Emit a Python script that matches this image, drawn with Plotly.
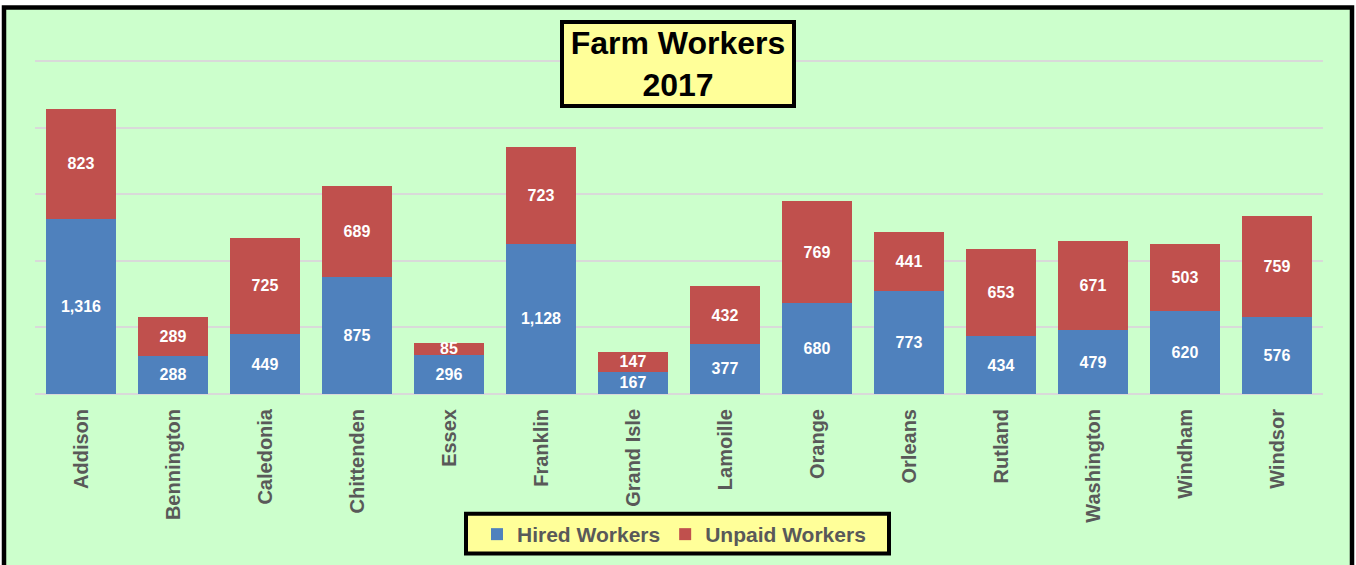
import plotly.graph_objects as go

counties = ["Addison", "Bennington", "Caledonia", "Chittenden", "Essex", "Franklin",
            "Grand Isle", "Lamoille", "Orange", "Orleans", "Rutland", "Washington",
            "Windham", "Windsor"]
hired = [1316, 288, 449, 875, 296, 1128, 167, 377, 680, 773, 434, 479, 620, 576]
unpaid = [823, 289, 725, 689, 85, 723, 147, 432, 769, 441, 653, 671, 503, 759]

W, H = 1356, 565
L, R, T, B = 35, 1323, 50, 395
PW, PH = R - L, B - T
YMAX = 2500 * (B - T) / (B - 61)   # so that the 2500 gridline sits at y=61


def px(x):
    return (x - L) / PW


def py(y):
    return (B - y) / PH


FONT = "Liberation Sans, Arial, sans-serif"
GRAY = "#595959"

fig = go.Figure()
fig.add_trace(go.Bar(
    name="Hired Workers", x=counties, y=hired, marker=dict(color="#4F81BD", line=dict(width=0)),
    text=[f"{v:,}" for v in hired], textposition="inside", insidetextanchor="middle",
    textangle=0, constraintext="none",
    textfont=dict(family=FONT, size=16, color="white", weight="bold"),
))
fig.add_trace(go.Bar(
    name="Unpaid Workers", x=counties, y=unpaid, marker=dict(color="#C0504D", line=dict(width=0)),
    text=[f"{v:,}" for v in unpaid], textposition="inside", insidetextanchor="middle",
    textangle=0, constraintext="none",
    textfont=dict(family=FONT, size=16, color="white", weight="bold"),
))

fig.update_layout(
    width=W, height=H,
    margin=dict(l=L, r=W - R, t=T, b=H - B, pad=0),
    barmode="stack", bargap=0.24,
    paper_bgcolor="white", plot_bgcolor="rgba(0,0,0,0)",
    font=dict(family=FONT, color=GRAY),
    xaxis=dict(tickangle=-90, showgrid=False, zeroline=False, showline=False, ticks="",
               tickfont=dict(family=FONT, size=20, color=GRAY, weight="bold"),
               ticklabelstandoff=10),
    yaxis=dict(range=[0, YMAX], tickvals=[500, 1000, 1500, 2000, 2500], showticklabels=False,
               showgrid=True, gridcolor="#D9D9D9", gridwidth=2, zeroline=True,
               zerolinecolor="#D9D9D9", zerolinewidth=2, showline=False, ticks=""),
    showlegend=True,
    legend=dict(orientation="h", x=px(674), xanchor="center", y=py(534.5), yanchor="middle",
                bgcolor="rgba(0,0,0,0)", borderwidth=0, traceorder="normal",
                font=dict(family=FONT, size=21, color=GRAY, weight="bold")),
)

# outer green panel with black border
fig.add_shape(type="rect", xref="paper", yref="paper", layer="below",
              x0=px(4), x1=px(1352), y0=py(600), y1=py(7.5),
              fillcolor="#CCFFCC", line=dict(color="black", width=4.5))
# legend box
fig.add_shape(type="rect", xref="paper", yref="paper", layer="above",
              x0=px(466), x1=px(889), y0=py(555), y1=py(515),
              fillcolor="#FFFF99", line=dict(color="black", width=4))

# title box
fig.add_annotation(xref="paper", yref="paper", x=px(677.5), y=py(64.5),
                   xanchor="center", yanchor="middle", showarrow=False,
                   text="Farm Workers<br>2017",
                   font=dict(family=FONT, size=32, color="black", weight="bold"),
                   bgcolor="#FFFF99", bordercolor="black", borderwidth=4, borderpad=3,
                   width=222, height=74)

fig.write_html("out.html", config={"displayModeBar": False},
               post_script="document.body.style.margin='0';document.body.style.overflow='hidden';")
